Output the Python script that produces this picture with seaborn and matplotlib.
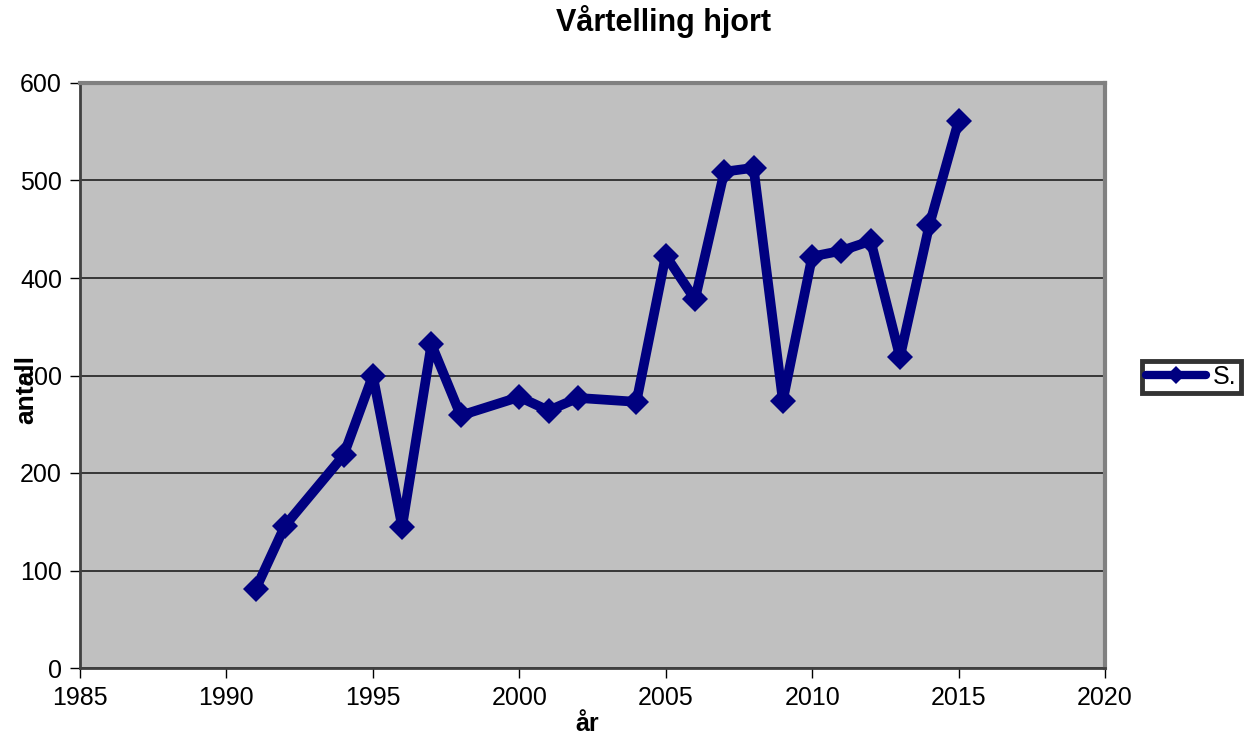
import numpy as np
import pandas as pd
import matplotlib
matplotlib.use('Agg')
import matplotlib.pyplot as plt
import seaborn as sns

# data
years = [1991, 1992, 1994, 1995, 1996, 1997, 1998, 2000, 2001, 2002, 2004,
         2005, 2006, 2007, 2008, 2009, 2010, 2011, 2012, 2013, 2014, 2015]
antall = [81, 146, 218, 300, 145, 332, 259, 278, 264, 277, 273,
          423, 378, 509, 513, 274, 422, 428, 438, 319, 454, 561]
x_ticks = [1985, 1990, 1995, 2000, 2005, 2010, 2015, 2020]
y_ticks = [0, 100, 200, 300, 400, 500, 600]
series_name = 'S.'

sns.set_style("white")
plt.rcParams['font.family'] = ['Liberation Sans', 'DejaVu Sans']
plt.rcParams['text.color'] = 'black'
plt.rcParams['axes.labelcolor'] = 'black'
plt.rcParams['xtick.color'] = 'black'
plt.rcParams['ytick.color'] = 'black'

df = pd.DataFrame({'år': years, 'antall': antall})

fig = plt.figure(figsize=(12.47, 7.42), dpi=100)
ax = fig.add_axes([80 / 1247, 1 - 668 / 742, 1025 / 1247, 585 / 742])
ax.set_facecolor('#C0C0C0')

sns.lineplot(data=df, x='år', y='antall', ax=ax, color='#000080', linewidth=7,
             marker='D', markersize=13, markeredgewidth=0, label=series_name,
             legend=False)

ax.set_xlim(1985, 2020)
ax.set_ylim(0, 600)
ax.set_xticks(x_ticks)
ax.set_yticks(y_ticks)
ax.yaxis.grid(True, color='#202020', linewidth=1.2)
ax.set_axisbelow(True)
ax.tick_params(axis='both', direction='out', length=7, width=1, color='#000000',
               labelsize=18, pad=6, bottom=True, left=True)

for side in ['top', 'right']:
    ax.spines[side].set_color('#808080')
    ax.spines[side].set_linewidth(3)
for side in ['left', 'bottom']:
    ax.spines[side].set_color('#404040')
    ax.spines[side].set_linewidth(2)

fig.text(663 / 1247, 1 - 22 / 742, 'Vårtelling hjort', fontsize=22,
         fontweight='bold', ha='center', va='center')
ax.set_xlabel('år', fontsize=18, fontweight='bold')
ax.xaxis.set_label_coords(507 / 1025, -44 / 585)
ax.set_ylabel('antall', fontsize=19, fontweight='bold')
ax.yaxis.set_label_coords(-42 / 1025, (668 - 390) / 585)

handles, labels = ax.get_lines()[:1], [series_name]
leg = fig.legend(handles, labels, loc='center left',
                 bbox_to_anchor=(1142 / 1247, 1 - 377 / 742),
                 fontsize=18, handlelength=2.4, frameon=True, fancybox=False,
                 borderpad=0.15, handletextpad=0.3, borderaxespad=0)
leg.get_frame().set_edgecolor('black')
leg.get_frame().set_linewidth(3.5)
leg.legend_handles[0].set_linewidth(6)
leg.legend_handles[0].set_markersize(9)

plt.savefig('out.png', dpi=100)
plt.close()
